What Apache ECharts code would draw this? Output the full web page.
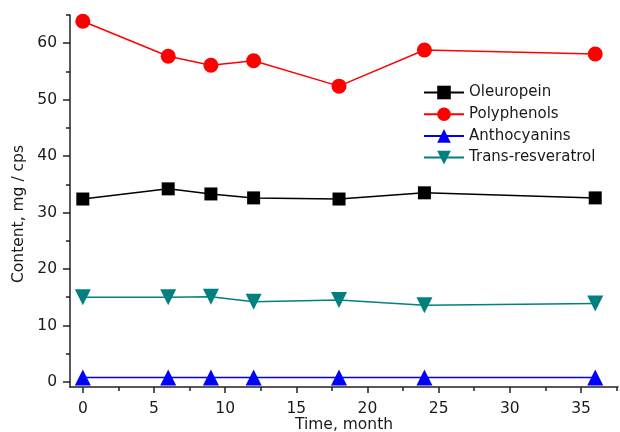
<!DOCTYPE html>
<html>
<head>
<meta charset="utf-8">
<script src="https://cdn.jsdelivr.net/npm/echarts@6/dist/echarts.min.js"></script>
<style>html,body{margin:0;padding:0;background:#fff}#c{width:620px;height:432px}</style>
</head>
<body>
<div id="c"></div>
<script>
const months = [0, 6, 9, 12, 18, 24, 36];
const oleuropein = [32.4, 34.2, 33.3, 32.6, 32.4, 33.5, 32.6];
const polyphenols = [63.9, 57.7, 56.1, 56.9, 52.4, 58.8, 58.1];
const anthocyanins = [0.8, 0.8, 0.8, 0.8, 0.8, 0.8, 0.8];
const transResveratrol = [15.0, 15.0, 15.1, 14.2, 14.5, 13.6, 13.9];
const xMajorTicks = [0, 5, 10, 15, 20, 25, 30, 35];
const xMinorTicks = [2.5, 7.5, 12.5, 17.5, 22.5, 27.5, 32.5, 37.5];
const yMajorTicks = [0, 10, 20, 30, 40, 50, 60];
const yMinorTicks = [5, 15, 25, 35, 45, 55, 65];

const FONT = 'DejaVu Sans, Liberation Sans, sans-serif';
const TXT = '#1a1a1a';
const X_MIN = -0.9, X_MAX = 37.6, Y_MIN = -0.9, Y_MAX = 65;

function pairs(vals) { return months.map((m, i) => [m, vals[i]]); }

const chart = echarts.init(document.getElementById('c'), null, {renderer: 'canvas'});
const lineBase = {type: 'line', lineStyle: {width: 1.5}, z: 3};
const tickStyle = {color: '#222', width: 1.5};

chart.setOption({
  animation: false,
  backgroundColor: '#ffffff',
  grid: {left: 70, right: 2, top: 15, bottom: 45, containLabel: false, outerBoundsMode: 'none'},
  legend: {
    orient: 'vertical', left: 418, top: 80, padding: 5,
    itemWidth: 40, itemHeight: 17, itemGap: 6.7,
    textStyle: {fontFamily: FONT, fontSize: 15, color: TXT},
    data: ['Oleuropein', 'Polyphenols', 'Anthocyanins', 'Trans-resveratrol']
  },
  xAxis: [
    {
      type: 'value', min: X_MIN, max: X_MAX, position: 'bottom',
      axisLine: {show: true, onZero: false, lineStyle: tickStyle},
      axisTick: {show: true, customValues: xMajorTicks, length: 6, lineStyle: tickStyle},
      axisLabel: {customValues: xMajorTicks, fontFamily: FONT, fontSize: 15.5, color: TXT, margin: 14},
      splitLine: {show: false},
      name: 'Time, month', nameLocation: 'middle', nameGap: 30, nameMoveOverlap: false,
      nameTextStyle: {fontFamily: FONT, fontSize: 15.5, color: TXT}
    },
    {
      type: 'value', min: X_MIN, max: X_MAX, position: 'bottom', offset: 0,
      axisLine: {show: false, onZero: false},
      axisTick: {show: true, customValues: xMinorTicks, length: 4, lineStyle: tickStyle},
      axisLabel: {show: false},
      splitLine: {show: false}
    }
  ],
  yAxis: [
    {
      type: 'value', min: Y_MIN, max: Y_MAX, position: 'left',
      axisLine: {show: true, onZero: false, lineStyle: tickStyle},
      axisTick: {show: true, customValues: yMajorTicks, length: 7, lineStyle: tickStyle},
      axisLabel: {customValues: yMajorTicks, fontFamily: FONT, fontSize: 15.5, color: TXT, margin: 13},
      splitLine: {show: false},
      name: 'Content, mg / cps', nameLocation: 'middle', nameGap: 43, nameMoveOverlap: false,
      nameTextStyle: {fontFamily: FONT, fontSize: 15.5, color: TXT, padding: [0, 26, 0, 0]}
    },
    {
      type: 'value', min: Y_MIN, max: Y_MAX, position: 'left', offset: 0,
      axisLine: {show: false, onZero: false},
      axisTick: {show: true, customValues: yMinorTicks, length: 4, lineStyle: tickStyle},
      axisLabel: {show: false},
      splitLine: {show: false}
    }
  ],
  series: [
    Object.assign({}, lineBase, {name: 'Oleuropein', data: pairs(oleuropein), symbol: 'rect', symbolSize: 13,
      itemStyle: {color: '#000000'}, lineStyle: {width: 1.5, color: '#000000'}}),
    Object.assign({}, lineBase, {name: 'Polyphenols', data: pairs(polyphenols), symbol: 'circle', symbolSize: 15,
      itemStyle: {color: '#ff0000'}, lineStyle: {width: 1.5, color: '#ff0000'}}),
    Object.assign({}, lineBase, {name: 'Anthocyanins', data: pairs(anthocyanins), symbol: 'triangle', symbolSize: 16,
      itemStyle: {color: '#0000ff'}, lineStyle: {width: 1.5, color: '#0000ff'}}),
    Object.assign({}, lineBase, {name: 'Trans-resveratrol', data: pairs(transResveratrol), symbol: 'triangle', symbolRotate: 180, symbolSize: 16,
      itemStyle: {color: '#008080'}, lineStyle: {width: 1.5, color: '#008080'}})
  ]
});
</script>
</body>
</html>
